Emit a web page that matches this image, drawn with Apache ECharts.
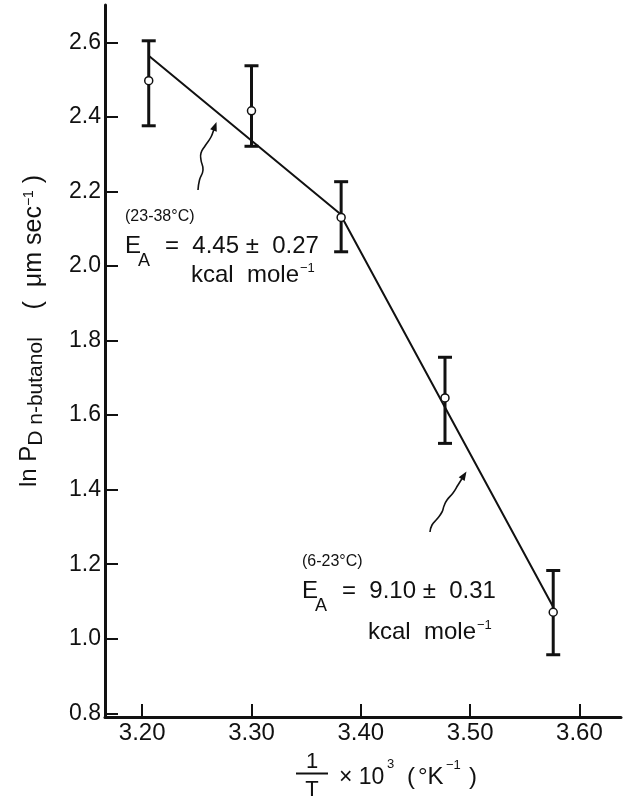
<!DOCTYPE html>
<html>
<head>
<meta charset="utf-8" />
<title>ln P vs 1/T</title>
<style>
  html, body { margin: 0; padding: 0; background: #fff; }
  #chart { width: 626px; height: 801px; }
</style>
</head>
<body>
<div id="chart"></div>
<script src="https://cdn.jsdelivr.net/npm/echarts/dist/echarts.min.js"></script>
<script>
// measured points (1/T x 10^3, ln P)
var xVals = [3.206, 3.300, 3.382, 3.477, 3.576];
var yVals = [2.497, 2.416, 2.130, 1.646, 1.071];
var yLow  = [2.376, 2.321, 2.038, 1.524, 0.957];
var yHigh = [2.604, 2.537, 2.226, 1.755, 1.183];
// fitted line (two segments)
var fitX = [3.206, 3.381, 3.576];
var fitY = [2.564, 2.140, 1.085];
// tick labels
var xTicks = [3.20, 3.30, 3.40, 3.50, 3.60];
var yTicks = [0.8, 1.0, 1.2, 1.4, 1.6, 1.8, 2.0, 2.2, 2.4, 2.6];

var ink = '#111';
var font = 'Liberation Sans, Arial, sans-serif';

var pts = xVals.map(function (x, i) { return [x, yVals[i]]; });
var bars = xVals.map(function (x, i) { return [x, yLow[i], yHigh[i]]; });
var fit = fitX.map(function (x, i) { return [x, fitY[i]]; });

function renderBar(params, api) {
  var x = api.value(0);
  var lo = api.coord([x, api.value(1)]);
  var hi = api.coord([x, api.value(2)]);
  var c = 7;
  var st = { stroke: ink, lineWidth: 3 };
  return {
    type: 'group',
    children: [
      { type: 'line', shape: { x1: lo[0], y1: lo[1], x2: hi[0], y2: hi[1] }, style: st },
      { type: 'line', shape: { x1: hi[0] - c, y1: hi[1], x2: hi[0] + c, y2: hi[1] }, style: st },
      { type: 'line', shape: { x1: lo[0] - c, y1: lo[1], x2: lo[0] + c, y2: lo[1] }, style: st }
    ]
  };
}

// wavy arrow: smooth polyline + head at last point
function wavyArrow(p) {
  var a = p[p.length - 2], b = p[p.length - 1];
  var ang = Math.atan2(b[1] - a[1], b[0] - a[0]);
  var L = 9, W = 3.5;
  var bx = b[0] - L * Math.cos(ang), by = b[1] - L * Math.sin(ang);
  var nx = -Math.sin(ang) * W, ny = Math.cos(ang) * W;
  return [
    { type: 'polyline', shape: { points: p.slice(0, -1).concat([[bx, by]]), smooth: 0.5 },
      style: { stroke: ink, lineWidth: 1.6, fill: null } },
    { type: 'polygon', shape: { points: [[b[0], b[1]], [bx + nx, by + ny], [bx - nx, by - ny]] },
      style: { fill: ink } }
  ];
}

function txt(x, y, s, size, extra) {
  var o = { type: 'text', x: x, y: y,
    style: { text: s, font: size + 'px ' + font, fill: ink, align: 'left', verticalAlign: 'bottom' } };
  if (extra) for (var k in extra) o.style[k] = extra[k];
  return o;
}

// annotation block: E_A = ... kcal mole^-1
function anno(x, base, range, val, base2) {
  return [
    txt(x, base - 28, range, 16),
    txt(x, base + 5, 'E', 24),
    txt(x + 13, base + 17, 'A', 18),
    txt(x + 40, base + 5, val, 24),
    txt(x + 66, base2 + 5, 'kcal  mole', 24),
    txt(x + 175, base2 - 7, '−1', 13)
  ];
}

var graphics = []
  .concat(wavyArrow([[198, 190], [199.5, 180], [203, 170], [201, 160], [201, 153], [205, 146], [211, 137], [214, 129], [216.5, 122]]))
  .concat(wavyArrow([[430, 532], [432, 525], [437, 519], [442, 512], [444, 506], [447, 500], [453, 493], [458, 485], [463, 477], [466.5, 471.5]]))
  .concat(anno(125, 253, '(23-38°C)', '=  4.45 ±  0.27', 282))
  .concat(anno(302, 598, '(6-23°C)', '=  9.10 ±  0.31', 639))
  .concat([
    { type: 'text', x: 29, y: 331, rotation: Math.PI / 2,
      style: {
        text: '{m|ln P}{s|D n-butanol}{q|    (  μm sec}{p|−1}{q| )}',
        align: 'center', verticalAlign: 'middle',
        rich: {
          m: { font: '24px ' + font, fill: ink, lineHeight: 36, verticalAlign: 'middle' },
          s: { font: '21px ' + font, fill: ink, lineHeight: 12, verticalAlign: 'bottom' },
          q: { font: '25px ' + font, fill: ink, lineHeight: 30, verticalAlign: 'bottom' },
          p: { font: '14px ' + font, fill: ink, lineHeight: 22, verticalAlign: 'middle' }
        }
      } },
    // x axis name: 1/T x 10^3 (°K^-1)
    txt(312, 773, '1', 22, { align: 'center' }),
    { type: 'line', shape: { x1: 296, y1: 773.5, x2: 328, y2: 773.5 }, style: { stroke: ink, lineWidth: 2 } },
    txt(312, 801, 'T', 22, { align: 'center' }),
    txt(339, 789, '× 10', 23),
    txt(387, 771, '3', 13),
    txt(407, 789, '(', 24),
    txt(418, 789, '°K', 24),
    txt(446, 772, '−1', 13),
    txt(469, 789, ')', 24)
  ]);

var chart = echarts.init(document.getElementById('chart'), null, { renderer: 'canvas' });
chart.setOption({
  backgroundColor: '#fff',
  animation: false,
  grid: { left: 105, right: 5, top: 5, bottom: 84 },
  xAxis: {
    type: 'value', min: 3.166, max: 3.638,
    splitLine: { show: false },
    axisLine: { lineStyle: { color: ink, width: 3 } },
    axisTick: { inside: true, length: 13, lineStyle: { color: ink, width: 2 }, customValues: xTicks },
    axisLabel: { customValues: xTicks, margin: 4, color: ink, fontSize: 24, fontFamily: font,
      formatter: function (v) { return v.toFixed(2); } }
  },
  yAxis: {
    type: 'value', min: 0.79, max: 2.70,
    splitLine: { show: false },
    axisLine: { lineStyle: { color: ink, width: 3 } },
    axisTick: { inside: true, length: 13, lineStyle: { color: ink, width: 2 }, customValues: yTicks },
    axisLabel: { customValues: yTicks, margin: 4, color: ink, fontSize: 23, fontFamily: font,
      formatter: function (v) { return v.toFixed(1); } }
  },
  series: [
    { type: 'line', data: fit, symbol: 'none', lineStyle: { color: ink, width: 2 }, z: 2 },
    { type: 'custom', data: bars, renderItem: renderBar, encode: { x: 0, y: [1, 2] }, z: 3 },
    { type: 'scatter', data: pts, symbol: 'circle', symbolSize: 8,
      itemStyle: { color: '#fff', borderColor: ink, borderWidth: 1.5, opacity: 1 }, z: 4 }
  ],
  graphic: graphics
});
</script>
</body>
</html>
